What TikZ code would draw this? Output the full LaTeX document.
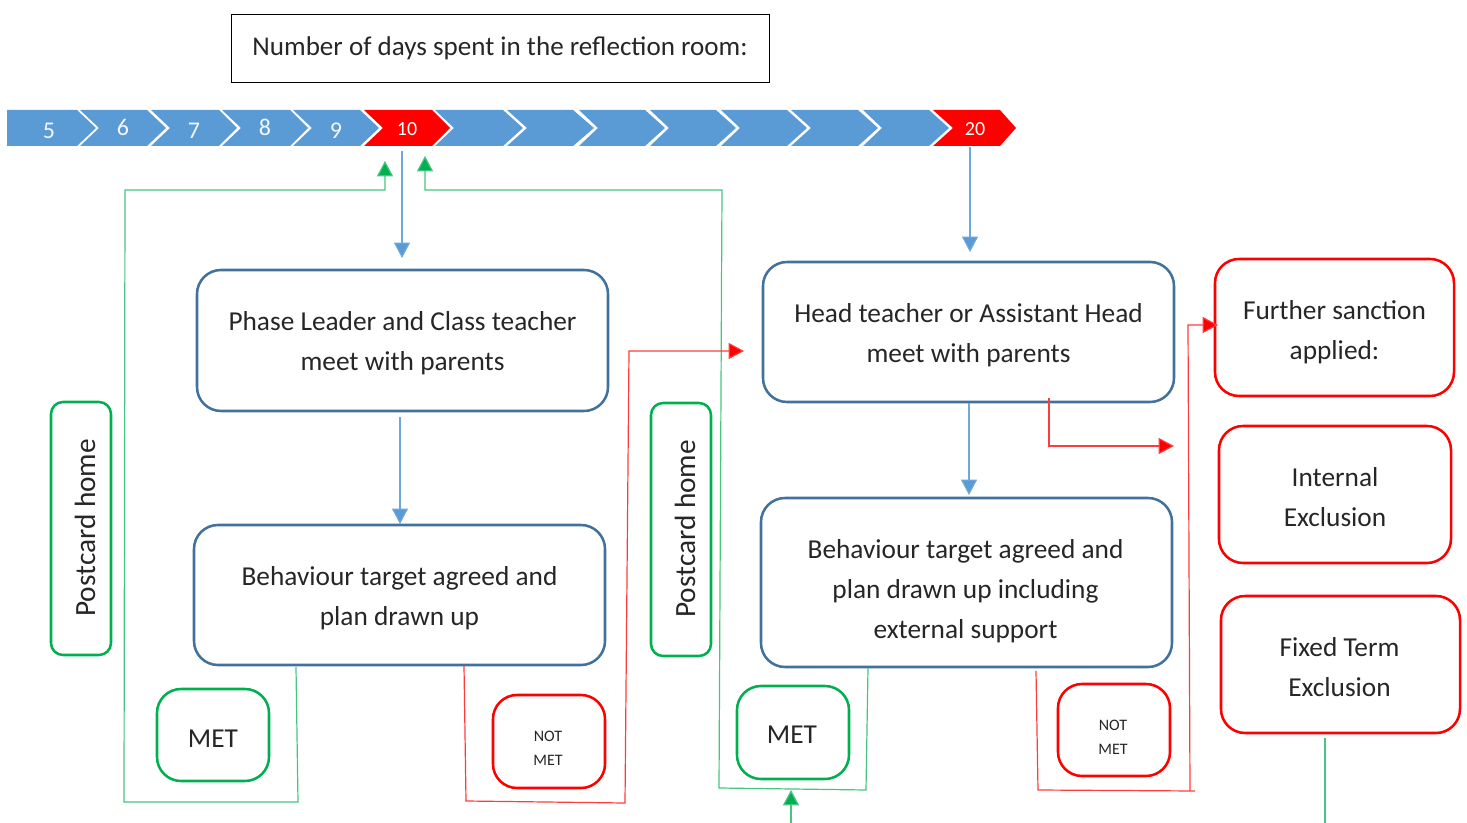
\documentclass[tikz,border=0pt]{standalone}
\usepackage{fontspec}
\setmainfont{Carlito}
\usetikzlibrary{arrows.meta}
\definecolor{cblue}{HTML}{5B9BD5}
\definecolor{cdark}{HTML}{41719C}
\definecolor{cgreen}{HTML}{00B050}
\definecolor{cred}{HTML}{FF0000}
\definecolor{lgreen}{HTML}{45C580}
\definecolor{lred}{HTML}{FF3C3C}
\definecolor{lblue}{HTML}{6FA8DC}
\newcommand{\chev}[5]{% left, right, tip, notch, colour
  \fill[#5] (#1,-110) -- (#2,-110) -- (#3,-128) -- (#2,-146) -- (#1,-146) -- (#4,-128) -- cycle;}
\tikzset{
  x=0.75pt,y=0.75pt,
  box/.style={draw=#1,line width=1.9pt,rounded corners=18pt,inner sep=0pt,outer sep=0pt},
  boxtext/.style={align=center,inner sep=0pt,outer sep=0pt,font=\fontsize{20.5}{30}\selectfont,text=black!85},
  smalltext/.style={align=center,inner sep=0pt,outer sep=0pt,font=\fontsize{12}{18}\selectfont,text=black!85},
  flow/.style={draw=lblue,line width=0.8pt,-{Triangle[length=11.5pt,width=12pt,fill=cblue]}},
  gline/.style={draw=lgreen,line width=0.9pt},
  rline/.style={draw=lred,line width=0.9pt},
  garrow/.style={gline,-{Triangle[length=11.5pt,width=12pt,fill=cgreen]}},
  rarrow/.style={rline,-{Triangle[length=11.5pt,width=12pt,fill=cred]}},
  num/.style={text=white!92!cblue,inner sep=0pt,font=\fontsize{18}{18}\selectfont},
  numr/.style={text=white,inner sep=0pt,font=\fontsize{15}{15}\selectfont},
}
% name,x0,y0,x1,y1,colour,dx,dy,style,text
\newcommand{\boxat}[9]{%
  \node[box=#6,minimum width=#4*0.75pt-#2*0.75pt,minimum height=#5*0.75pt-#3*0.75pt,anchor=north west] (#1) at (#2,-#3) {};
  \def\boxname{#1}\def\boxdx{#7}\def\boxdy{#8}\def\boxstyle{#9}\boxtextcont}
\newcommand{\boxtextcont}[1]{%
  \node[\boxstyle] (\boxname-t) at ([xshift=\boxdx*0.75pt,yshift=-\boxdy*0.75pt]\boxname.center) {#1};}
\begin{document}
\begin{tikzpicture}
\useasboundingbox (0,0) rectangle (1467,-823);
% title
\node[draw=black,line width=0.7pt,minimum width=538*0.75pt,minimum height=68*0.75pt,anchor=north west,inner sep=0pt,outer sep=0pt,font=\fontsize{20.3}{24}\selectfont,text=black!85] (title) at (231,-14) {Number of days spent in the reflection room:};
% chevrons
\fill[cblue] (7,-110) -- (77,-110) -- (96,-128) -- (77,-146) -- (7,-146) -- cycle;
\chev{80}{147}{166}{99}{cblue}
\chev{151}{219}{237}{170}{cblue}
\chev{222}{290}{308}{241}{cblue}
\chev{293}{360}{379}{312}{cblue}
\chev{364}{432}{450}{383}{cred}
\chev{435}{503}{523}{454}{cblue}
\chev{507}{573}{594}{527}{cblue}
\chev{579}{645}{665}{598}{cblue}
\chev{650}{716}{736}{669}{cblue}
\chev{721}{787}{807}{740}{cblue}
\chev{791}{858}{878}{811}{cblue}
\chev{863}{929}{949}{882}{cblue}
\chev{933}{1000}{1016}{953}{cred}
\node[num] (n5) at (49,-131) {5};
\node[num] (n6) at (123,-127.5) {6};
\node[num] (n7) at (194,-131) {7};
\node[num] (n8) at (265,-127.5) {8};
\node[num] (n9) at (336,-131) {9};
\node[numr] (n10) at (407,-129) {10};
\node[numr] (n20) at (975,-129) {20};
% large boxes
\boxat{phase}{197}{270}{608}{411}{cdark}{0}{3}{boxtext}{Phase Leader and Class teacher\\meet with parents}
\boxat{target}{194}{525}{605}{665}{cdark}{0}{3}{boxtext}{Behaviour target agreed and\\plan drawn up}
\boxat{head}{763}{262}{1174}{402}{cdark}{0}{3}{boxtext}{Head teacher or Assistant Head\\meet with parents}
\boxat{targetb}{761}{498}{1172}{667}{cdark}{-1}{9}{boxtext}{Behaviour target agreed and\\plan drawn up including\\external support}
\boxat{further}{1215}{259}{1454}{396}{cred}{0}{4.5}{boxtext}{Further sanction\\applied:}
\boxat{internal}{1219}{426}{1451}{563}{cred}{0}{2.5}{boxtext}{Internal\\Exclusion}
\boxat{fixed}{1221}{596}{1460}{733}{cred}{-1}{2.5}{boxtext}{Fixed Term\\Exclusion}
\boxat{met}{157}{689}{269}{781}{cgreen}{0}{4}{boxtext}{MET}
\boxat{metb}{737}{686}{849}{779}{cgreen}{-1}{2.5}{boxtext}{MET}
\boxat{notmet}{493}{695}{605}{788}{cred}{-1}{7}{smalltext}{NOT\\MET}
\boxat{notmetb}{1058}{684}{1170}{776}{cred}{-1}{7}{smalltext}{NOT\\MET}
% postcards
\node[box=cgreen,rounded corners=9pt,minimum width=60*0.75pt,minimum height=253*0.75pt,anchor=north west] (post) at (51,-402) {};
\node[rotate=90,inner sep=0pt,font=\fontsize{22}{24}\selectfont,text=black!85] (postt) at ([xshift=3pt,yshift=0.5pt]post.center) {Postcard home};
\node[box=cgreen,rounded corners=9pt,minimum width=60*0.75pt,minimum height=253*0.75pt,anchor=north west] (postb) at (651,-403) {};
\node[rotate=90,inner sep=0pt,font=\fontsize{22}{24}\selectfont,text=black!85] (posttb) at ([xshift=3pt,yshift=0.5pt]postb.center) {Postcard home};
% blue connectors
\coordinate (a1) at (402,-151); \coordinate (a2) at (402,-258);
\draw[flow] (a1) -- (a2);
\coordinate (b1) at (970,-147); \coordinate (b2) at (970,-252);
\draw[flow] (b1) -- (b2);
\coordinate (c1) at (400,-417); \coordinate (c2) at (400,-524);
\draw[flow] (c1) -- (c2);
\coordinate (d1) at (969,-403); \coordinate (d2) at (969,-495);
\draw[flow] (d1) -- (d2);
% green connectors
\coordinate (g1) at (296,-667); \coordinate (g2) at (298,-802); \coordinate (g3) at (124,-802);
\coordinate (g4) at (125,-190); \coordinate (g5) at (385,-190); \coordinate (g6) at (385,-161);
\draw[garrow] (g1) -- (g2) -- (g3) -- (g4) -- (g5) -- (g6);
\coordinate (h1) at (868,-668); \coordinate (h2) at (866,-790); \coordinate (h3) at (719,-788);
\coordinate (h4) at (722,-190); \coordinate (h5) at (425,-190); \coordinate (h6) at (425,-156);
\draw[garrow] (h1) -- (h2) -- (h3) -- (h4) -- (h5) -- (h6);
\coordinate (i1) at (791,-823); \coordinate (i2) at (791,-790);
\draw[garrow] (i1) -- (i2);
\coordinate (j1) at (1325,-738); \coordinate (j2) at (1325,-823);
\draw[gline] (j1) -- (j2);
% red connectors
\coordinate (r1) at (464,-666); \coordinate (r2) at (466,-801); \coordinate (r3) at (625,-803);
\coordinate (r4) at (629,-351); \coordinate (r5) at (744,-351);
\draw[rarrow] (r1) -- (r2) -- (r3) -- (r4) -- (r5);
\coordinate (s1) at (1036,-671); \coordinate (s2) at (1038,-790); \coordinate (s3) at (1195,-791);
\draw[rline] (s1) -- (s2) -- (s3);
\coordinate (t1) at (1190,-791); \coordinate (t2) at (1188,-325); \coordinate (t3) at (1218,-325);
\draw[rarrow] (t1) -- (t2) -- (t3);
\coordinate (u1) at (1049,-398); \coordinate (u2) at (1049,-446); \coordinate (u3) at (1174,-446);
\draw[rarrow] (u1) -- (u2) -- (u3);
\end{tikzpicture}
\end{document}
